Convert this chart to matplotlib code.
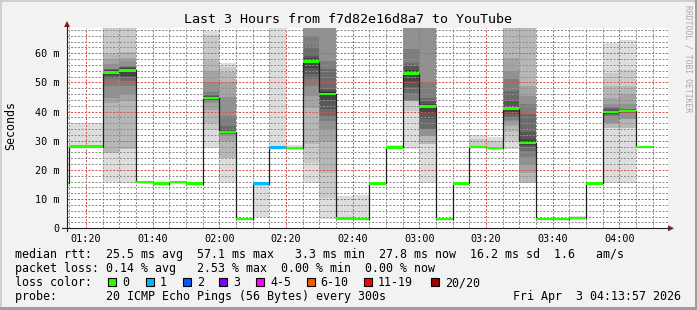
import matplotlib
matplotlib.use("Agg")
import numpy as np
import matplotlib.pyplot as plt
from matplotlib.patches import Rectangle, Polygon
from matplotlib.lines import Line2D
from matplotlib.ticker import FixedLocator, MultipleLocator

W, H = 697, 310

# 5 minute intervals (start time), median rtt [ms], lost pings
starts = ["01:10", "01:15", "01:20", "01:25", "01:30", "01:35", "01:40", "01:45",
          "01:50", "01:55", "02:00", "02:05", "02:10", "02:15", "02:20", "02:25",
          "02:30", "02:35", "02:40", "02:45", "02:50", "02:55", "03:00", "03:05",
          "03:10", "03:15", "03:20", "03:25", "03:30", "03:35", "03:40", "03:45",
          "03:50", "03:55", "04:00", "04:05"]
medians = [15.5, 28.0, 28.0, 53.4, 54.1, 15.9, 15.3, 15.8,
           15.3, 44.6, 33.0, 3.3, 15.3, 27.7, 27.6, 57.1,
           46.1, 3.4, 3.3, 15.4, 27.7, 53.0, 41.7, 3.3,
           15.4, 27.8, 27.6, 41.0, 29.3, 3.3, 3.3, 3.5,
           15.4, 39.8, 40.3, 27.8]
losses = [0, 0, 0, 0, 0, 0, 0, 0,
          0, 0, 0, 0, 1, 1, 0, 0,
          0, 0, 0, 0, 0, 0, 0, 0,
          0, 0, 0, 0, 0, 0, 0, 0,
          0, 0, 0, 0]

# 20 sorted ping times per interval (values above ~69 are off the chart)
pings = [
    [15.5] * 20,
    [28.0] * 19 + [36.0],
    [28.0] * 19 + [36.2],
    [15.9, 25.9, 25.9, 43.1, 44.8, 48.8, 51.1, 52.0, 52.5, 52.9,
     53.9, 54.1, 54.3, 54.5, 54.6, 56.2, 57.9, 59.6, 75.0, 80.0],
    [15.4, 27.1, 27.1, 43.6, 46.0, 48.8, 50.5, 51.5, 52.2, 53.5,
     54.6, 54.9, 55.2, 55.4, 55.6, 57.4, 58.5, 60.5, 75.0, 80.0],
    [15.9] * 20,
    [15.3] * 19 + [16.0],
    [15.8] * 19 + [16.3],
    [15.3] * 20,
    [27.6, 33.7, 36.0, 40.5, 42.8, 43.6, 44.0, 44.2, 44.4, 44.5,
     44.7, 44.9, 45.3, 45.8, 46.8, 50.0, 54.0, 57.7, 66.3, 67.7],
    [15.6, 24.2, 24.2, 29.9, 31.6, 32.2, 32.6, 32.8, 32.9, 33.0,
     33.2, 33.4, 33.7, 35.1, 38.5, 45.0, 50.0, 53.5, 55.1, 56.6],
    [3.3] * 20,
    [4.0] + [15.3] * 19,
    [27.7] * 19 + [80.0],
    [27.6] * 19 + [28.4],
    [15.6, 22.5, 28.8, 41.3, 45.4, 48.8, 51.0, 53.0, 55.0, 56.5,
     57.6, 58.2, 59.1, 62.0, 65.9, 72.0, 75.0, 78.0, 82.0, 88.0],
    [3.1, 10.5, 19.1, 29.9, 33.9, 36.8, 38.5, 41.0, 44.0, 45.8,
     46.6, 47.0, 47.6, 54.5, 57.4, 72.0, 76.0, 80.0, 85.0, 90.0],
    [3.4] * 19 + [11.1],
    [3.3] * 19 + [11.3],
    [15.4] * 20,
    [27.7] * 19 + [28.5],
    [27.3, 40.1, 43.6, 43.6, 43.6, 43.6, 46.5, 48.5, 50.5, 52.5,
     53.6, 54.4, 55.6, 56.8, 61.4, 72.0, 76.0, 80.0, 85.0, 90.0],
    [15.6, 28.8, 28.8, 31.6, 31.6, 34.0, 34.0, 37.4, 39.5, 41.2,
     42.0, 42.6, 43.5, 44.8, 49.9, 72.0, 76.0, 80.0, 85.0, 90.0],
    [3.3] * 20,
    [15.4] * 20,
    [27.8] * 18 + [30.5, 32.0],
    [27.1] + [27.6] * 17 + [29.8, 31.4],
    [27.1, 29.9, 32.9, 35.2, 36.3, 37.0, 38.0, 39.0, 40.0, 40.7,
     41.4, 41.9, 43.5, 47.0, 51.1, 53.9, 58.5, 72.0, 76.0, 80.0],
    [15.6, 15.6, 15.6, 19.1, 21.8, 24.6, 26.5, 27.8, 28.6, 29.1,
     29.7, 30.5, 33.0, 39.0, 42.6, 45.5, 48.8, 72.0, 76.0, 80.0],
    [3.3] * 20,
    [3.3] * 20,
    [3.5] * 19 + [4.2],
    [15.4] * 20,
    [15.4, 34.5, 34.5, 36.2, 36.2, 38.4, 38.8, 39.2, 39.5, 39.7,
     40.0, 40.3, 40.8, 41.2, 41.6, 42.5, 44.8, 48.8, 53.3, 63.6],
    [15.4, 34.5, 34.5, 37.3, 37.3, 39.6, 39.8, 39.9, 40.0, 40.2,
     40.4, 40.5, 40.6, 40.8, 41.0, 42.7, 46.1, 48.8, 54.4, 64.6],
    [27.8] * 20,
]

loss_labels = ["0", "1", "2", "3", "4-5", "6-10", "11-19", "20/20"]
loss_colors = ["#26ff00", "#00b8ff", "#0059ff", "#7e00ff",
               "#ff00ff", "#ff5500", "#ff0000", "#a00000"]

xtick_labels = ["01:20", "01:40", "02:00", "02:20", "02:40",
                "03:00", "03:20", "03:40", "04:00"]
ytick_vals = [0, 10, 20, 30, 40, 50, 60]
ytick_labels = ["0", "10 m", "20 m", "30 m", "40 m", "50 m", "60 m"]

legend_lines = [
    "median rtt:  25.5 ms avg  57.1 ms max   3.3 ms min  27.8 ms now  16.2 ms sd  1.6   am/s",
    "packet loss: 0.14 % avg   2.53 % max  0.00 % min  0.00 % now",
]
probe_text = "probe:       20 ICMP Echo Pings (56 Bytes) every 300s"
stamp_text = "Fri Apr  3 04:13:57 2026"

smoke_greys = ["#dddddd", "#cacaca", "#b7b7b7", "#a4a4a4", "#919191",
               "#7e7e7e", "#6b6b6b", "#585858", "#454545", "#323232"]

MONO = "DejaVu Sans Mono"


def mins(s):
    h, m = s.split(":")
    return int(h) * 60 + int(m)


def fx(x):
    return x / W


def fy(y):
    return 1 - y / H


fig = plt.figure(figsize=(W / 100, H / 100), dpi=100, facecolor="#f2f2f2")
ax = fig.add_axes([fx(67), fy(228.3), fx(668) - fx(67), fy(27.5) - fy(228.3)])
ax.set_facecolor("white")
for s in ax.spines.values():
    s.set_visible(False)

x0 = np.array([mins(s) for s in starts], dtype=float)
P = np.array(pings)

# smoke: outer pairs light, inner pairs dark
for k in range(10):
    lo = P[:, k]
    hi = P[:, 19 - k]
    ax.bar(x0, hi - lo, bottom=lo, width=5, align="edge", color=smoke_greys[k],
           linewidth=0, antialiased=False, zorder=1)

edges = list(x0) + [x0[-1] + 5]
ax.stairs(medians, edges, baseline=None, color="#202020", lw=0.9, zorder=3)

med = np.array(medians)
cols = [loss_colors[l] for l in losses]
ax.bar(x0, 0.8, bottom=med - 0.4, width=5, align="edge", color=cols,
       linewidth=0, antialiased=False, zorder=4)

ax.set_xlim(74.3, 254.6)
ax.set_ylim(0, 68.8)

ax.xaxis.set_major_locator(FixedLocator([mins(t) for t in xtick_labels]))
ax.xaxis.set_minor_locator(MultipleLocator(5))
ax.set_xticklabels(xtick_labels, family=MONO, fontsize=7.3)
ax.yaxis.set_major_locator(FixedLocator(ytick_vals))
ax.yaxis.set_minor_locator(MultipleLocator(2))
ax.set_yticklabels(ytick_labels, family=MONO, fontsize=7.3)
ax.tick_params(which="both", direction="in", length=0)
ax.tick_params(axis="y", pad=5.2)
ax.tick_params(axis="x", pad=3.8)

ax.set_axisbelow(False)
ax.grid(which="minor", color=(0.56, 0.56, 0.56, 0.4), lw=0.72, ls=(0, (2, 1.5)))
ax.grid(which="major", color=(0.87, 0.31, 0.31, 0.5), lw=0.72, ls=(0, (2, 1.5)))

# axis lines and arrows
fig.add_artist(Line2D([fx(62), fx(668)], [fy(228.3), fy(228.3)], color="#1f1f1f", lw=0.8))
fig.add_artist(Line2D([fx(67), fx(67)], [fy(231), fy(26)], color="#1f1f1f", lw=0.8))
fig.add_artist(Polygon([(fx(668), fy(225.3)), (fx(674), fy(228.3)), (fx(668), fy(231.3))],
                       closed=True, color="#801f1f", lw=0))
fig.add_artist(Polygon([(fx(64), fy(27)), (fx(67), fy(21)), (fx(70), fy(27))],
                       closed=True, color="#801f1f", lw=0))

# border shading
fig.add_artist(Rectangle((0, fy(2)), 1, fy(0) - fy(2), color="#cfcfcf", lw=0))
fig.add_artist(Rectangle((0, 0), fx(2), 1, color="#cfcfcf", lw=0))
fig.add_artist(Rectangle((0, 0), 1, fy(307) - fy(310), color="#9e9e9e", lw=0))
fig.add_artist(Rectangle((fx(695), 0), fx(2), 1, color="#9e9e9e", lw=0))

fig.text(fx(348), fy(19.3), "Last 3 Hours from f7d82e16d8a7 to YouTube",
         family=MONO, fontsize=9.6, ha="center", va="center")
fig.text(fx(10.5), fy(125), "Seconds", family=MONO, fontsize=8.4,
         rotation=90, ha="center", va="center")
fig.text(fx(688), fy(5), "RRDTOOL / TOBI OETIKER", family=MONO, fontsize=5.8,
         rotation=270, ha="center", va="top", color="#a8a8a8")

for txt, y in zip(legend_lines, [254.5, 268.5]):
    fig.text(fx(15), fy(y), txt, family=MONO, fontsize=8.4, va="center")

fig.text(fx(15), fy(282.5), "loss color:", family=MONO, fontsize=8.4, va="center")
sw_x = [108, 145.7, 182.7, 219, 256, 306.7, 364, 430.7]
for lab, c, x in zip(loss_labels, loss_colors, sw_x):
    fig.add_artist(Rectangle((fx(x), fy(286)), fx(8), fy(278) - fy(286),
                             facecolor=c, edgecolor="black", lw=0.8))
    fig.text(fx(x + 14), fy(282.5), lab, family=MONO, fontsize=8.4, va="center")

fig.text(fx(15), fy(296.5), probe_text, family=MONO, fontsize=8.4, va="center")
fig.text(fx(681), fy(296.5), stamp_text, family=MONO,
         fontsize=8.4, va="center", ha="right")

fig.savefig("out.png", dpi=100, facecolor=fig.get_facecolor())
